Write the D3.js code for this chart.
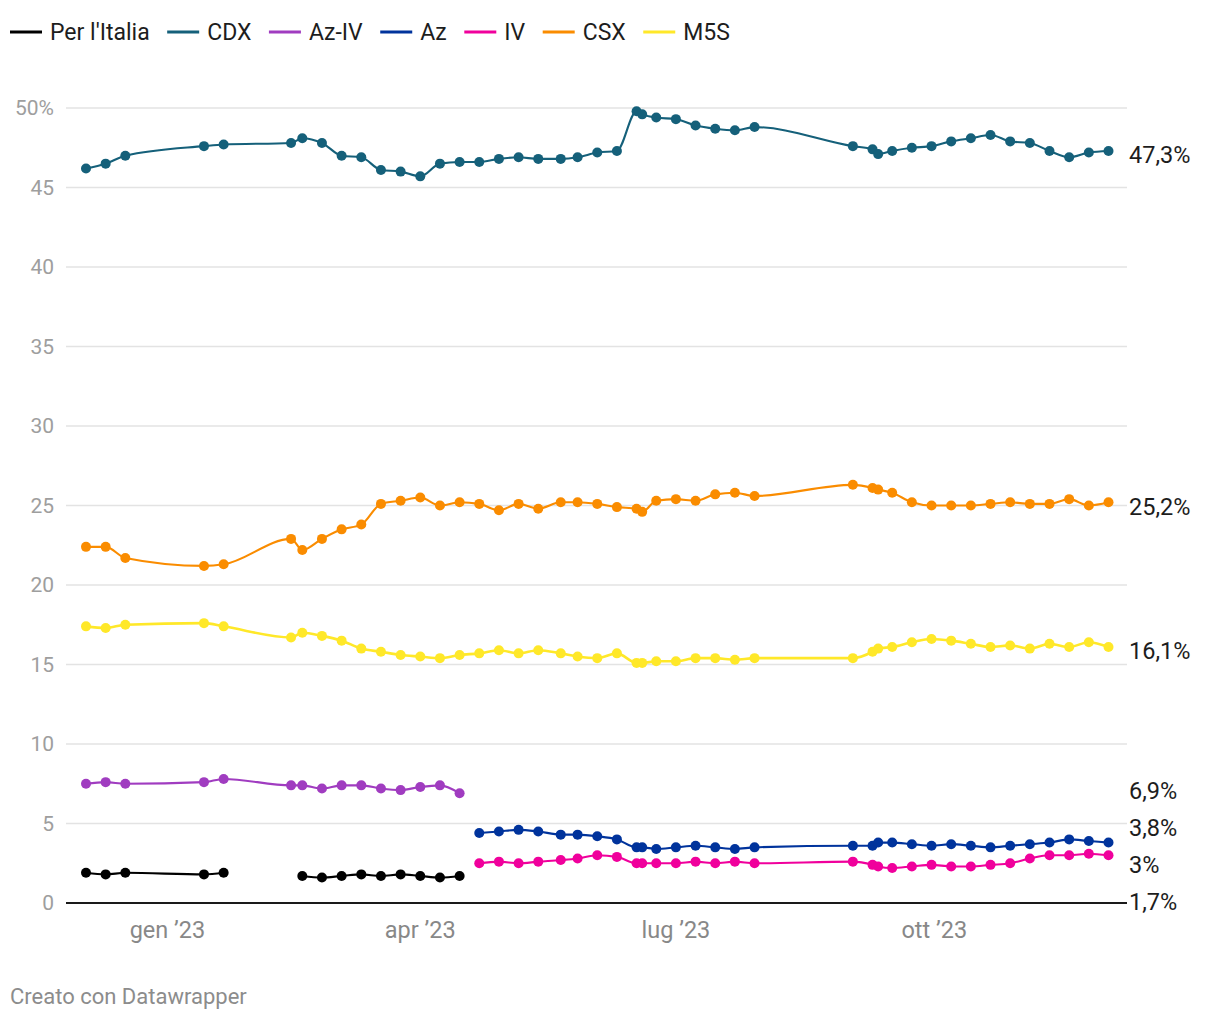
<!DOCTYPE html>
<html><head><meta charset="utf-8">
<script src="https://cdn.jsdelivr.net/npm/d3@7"></script>
<style>
body{margin:0;background:#fff;font-family:Roboto,"Noto Sans",sans-serif;}
</style></head><body>
<svg id="chart" width="1220" height="1020"></svg>
<script>
const dates = ["2022-12-03","2022-12-10","2022-12-17","2023-01-14","2023-01-21","2023-02-14","2023-02-18","2023-02-25","2023-03-04","2023-03-11","2023-03-18","2023-03-25","2023-04-01","2023-04-08","2023-04-15","2023-04-22","2023-04-29","2023-05-06","2023-05-13","2023-05-21","2023-05-27","2023-06-03","2023-06-10","2023-06-17","2023-06-19","2023-06-24","2023-07-01","2023-07-08","2023-07-15","2023-07-22","2023-07-29","2023-09-02","2023-09-09","2023-09-11","2023-09-16","2023-09-23","2023-09-30","2023-10-07","2023-10-14","2023-10-21","2023-10-28","2023-11-04","2023-11-11","2023-11-18","2023-11-25","2023-12-02"];

const seriesNames = ["Per l'Italia","CDX","Az-IV","Az","IV","CSX","M5S"];
const seriesColors = ["#000000","#15607a","#a03cc0","#00339c","#f0009c","#fa8c00","#ffe829"];
const N = null;
const perItalia = [1.9,1.8,1.9,1.8,1.9,N,1.7,1.6,1.7,1.8,1.7,1.8,1.7,1.6,1.7, N,N,N,N,N,N,N,N,N,N,N,N,N,N,N,N, N,N,N,N,N,N,N,N,N,N,N,N,N,N,N];
const cdx = [46.2,46.5,47.0,47.6,47.7,47.8,48.1,47.8,47.0,46.9,46.1,46.0,45.7,46.5,46.6, 46.6,46.8,46.9,46.8,46.8,46.9,47.2,47.3,49.8,49.6,49.4,49.3,48.9,48.7,48.6,48.8, 47.6,47.4,47.1,47.3,47.5,47.6,47.9,48.1,48.3,47.9,47.8,47.3,46.9,47.2,47.3];
const azIv = [7.5,7.6,7.5,7.6,7.8,7.4,7.4,7.2,7.4,7.4,7.2,7.1,7.3,7.4,6.9, N,N,N,N,N,N,N,N,N,N,N,N,N,N,N,N, N,N,N,N,N,N,N,N,N,N,N,N,N,N,N];
const az = [N,N,N,N,N,N,N,N,N,N,N,N,N,N,N, 4.4,4.5,4.6,4.5,4.3,4.3,4.2,4.0,3.5,3.5,3.4,3.5,3.6,3.5,3.4,3.5, 3.6,3.6,3.8,3.8,3.7,3.6,3.7,3.6,3.5,3.6,3.7,3.8,4.0,3.9,3.8];
const iv = [N,N,N,N,N,N,N,N,N,N,N,N,N,N,N, 2.5,2.6,2.5,2.6,2.7,2.8,3.0,2.9,2.5,2.5,2.5,2.5,2.6,2.5,2.6,2.5, 2.6,2.4,2.3,2.2,2.3,2.4,2.3,2.3,2.4,2.5,2.8,3.0,3.0,3.1,3.0];
const csx = [22.4,22.4,21.7,21.2,21.3,22.9,22.2,22.9,23.5,23.8,25.1,25.3,25.5,25.0,25.2, 25.1,24.7,25.1,24.8,25.2,25.2,25.1,24.9,24.8,24.6,25.3,25.4,25.3,25.7,25.8,25.6, 26.3,26.1,26.0,25.8,25.2,25.0,25.0,25.0,25.1,25.2,25.1,25.1,25.4,25.0,25.2];
const m5s = [17.4,17.3,17.5,17.6,17.4,16.7,17.0,16.8,16.5,16.0,15.8,15.6,15.5,15.4,15.6, 15.7,15.9,15.7,15.9,15.7,15.5,15.4,15.7,15.1,15.1,15.2,15.2,15.4,15.4,15.3,15.4, 15.4,15.8,16.0,16.1,16.4,16.6,16.5,16.3,16.1,16.2,16.0,16.3,16.1,16.4,16.1];
const seriesValues = [perItalia, cdx, azIv, az, iv, csx, m5s];

const xTickDates = ["2023-01-01","2023-04-01","2023-07-01","2023-10-01"];
const xTickLabels = ["gen ’23","apr ’23","lug ’23","ott ’23"];
const yTicks = [0,5,10,15,20,25,30,35,40,45,50];
const yTickLabels = ["0","5","10","15","20","25","30","35","40","45","50%"];

const parse = d3.timeParse("%Y-%m-%d");
const svg = d3.select("#chart");
const plotL = 66, plotR = 1127, plotT = 108, plotB = 903, pad = 20;

const x = d3.scaleTime()
  .domain(d3.extent(dates, parse))
  .range([plotL + pad, plotR - 18.5]);
const y = d3.scaleLinear().domain([0, 50]).range([plotB, plotT]);

// grid
const grid = svg.append("g");
grid.selectAll("line").data(yTicks.filter(t => t > 0)).join("line")
  .attr("x1", plotL).attr("x2", plotR)
  .attr("y1", d => y(d)).attr("y2", d => y(d))
  .attr("stroke", "#e3e3e3").attr("stroke-width", 1.3);

// y labels
svg.append("g").selectAll("text").data(yTicks).join("text")
  .attr("x", 54).attr("y", d => y(d))
  .attr("dy", "0.35em").attr("text-anchor", "end")
  .attr("font-size", 21).attr("fill", "#9e9e9e")
  .text((d, i) => yTickLabels[i]);

// baseline
svg.append("line").attr("x1", plotL).attr("x2", plotR)
  .attr("y1", y(0)).attr("y2", y(0))
  .attr("stroke", "#1a1a1a").attr("stroke-width", 2);

// x labels
svg.append("g").selectAll("text").data(xTickDates).join("text")
  .attr("x", d => x(parse(d))).attr("y", 930)
  .attr("dy", "0.35em").attr("text-anchor", "middle")
  .attr("font-size", 23.5).attr("fill", "#888")
  .text((d, i) => xTickLabels[i]);

// lines
const line = d3.line()
  .defined(d => d.v != null)
  .x(d => x(d.date)).y(d => y(d.v))
  .curve(d3.curveMonotoneX);

const series = seriesNames.map((name, i) => ({
  name, color: seriesColors[i],
  pts: dates.map((dt, j) => ({date: parse(dt), v: seriesValues[i][j]}))
}));

const drawOrder = [6, 5, 4, 3, 2, 0, 1];
drawOrder.forEach(i => {
  const s = series[i];
  const g = svg.append("g");
  g.append("path").datum(s.pts).attr("d", line)
    .attr("fill", "none").attr("stroke", s.color)
    .attr("stroke-width", i === 6 ? 2.6 : 2.1).attr("stroke-linejoin", "round");
  g.selectAll("circle").data(s.pts.filter(p => p.v != null)).join("circle")
    .attr("cx", p => x(p.date)).attr("cy", p => y(p.v)).attr("r", 5)
    .attr("fill", s.color);
});

// end labels with collision avoidance
const fmt = v => (Math.round(v * 10) / 10).toString().replace(".", ",") + "%";
let labels = series.map(s => {
  const last = s.pts.filter(p => p.v != null).slice(-1)[0];
  return {text: fmt(last.v), target: y(last.v)};
}).sort((a, b) => a.target - b.target);
const gap = 37;
let clusters = labels.map(l => ({items: [l], center: l.target}));
let changed = true;
function layout(c) { const n = c.items.length; c.top = c.center - (n - 1) * gap / 2; c.bottom = c.top + (n - 1) * gap; }
clusters.forEach(layout);
while (changed) {
  changed = false;
  for (let i = 0; i < clusters.length - 1; i++) {
    const a = clusters[i], b = clusters[i + 1];
    if (b.top - a.bottom < gap) {
      const items = a.items.concat(b.items);
      const c = {items, center: d3.mean(items, d => d.target)};
      layout(c);
      clusters.splice(i, 2, c);
      changed = true; break;
    }
  }
}
clusters.forEach(c => c.items.forEach((it, k) => it.pos = c.top + k * gap));
svg.append("g").selectAll("text").data(labels).join("text")
  .attr("x", 1129).attr("y", d => d.pos + 4)
  .attr("dy", "0.35em").attr("font-size", 23.5).attr("fill", "#1d1d1d")
  .text(d => d.text);

// legend
const leg = svg.append("g");
let lx = 10;
series.forEach(s => {
  leg.append("line").attr("x1", lx).attr("x2", lx + 32).attr("y1", 32).attr("y2", 32)
    .attr("stroke", s.color).attr("stroke-width", 3);
  const t = leg.append("text").attr("x", lx + 40).attr("y", 32).attr("dy", "0.35em")
    .attr("font-size", 23).attr("fill", "#1d1d1d").text(s.name);
  lx += 40 + t.node().getComputedTextLength() + 17.5;
});

// credit
svg.append("text").attr("x", 10).attr("y", 996).attr("dy", "0.35em")
  .attr("font-size", 22).attr("fill", "#8c8c8c").text("Creato con Datawrapper");
</script>
</body></html>
